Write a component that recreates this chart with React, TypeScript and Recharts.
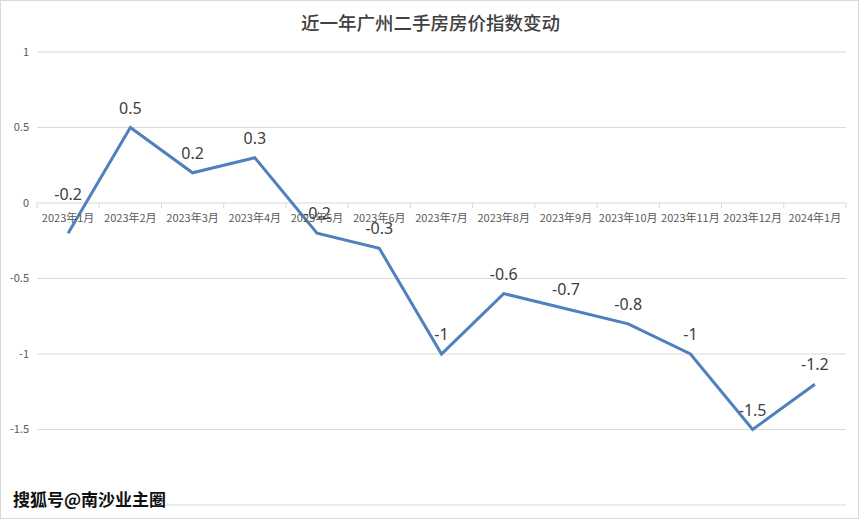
import React from "react";
import { LineChart, Line, XAxis, YAxis, CartesianGrid, LabelList } from "recharts";

const categories = [
  "2023年1月", "2023年2月", "2023年3月", "2023年4月", "2023年5月", "2023年6月", "2023年7月",
  "2023年8月", "2023年9月", "2023年10月", "2023年11月", "2023年12月", "2024年1月",
];
const values = [-0.2, 0.5, 0.2, 0.3, -0.2, -0.3, -1, -0.6, -0.7, -0.8, -1, -1.5, -1.2];
const yTicks = [-2, -1.5, -1, -0.5, 0, 0.5, 1];

const data = categories.map((c, i) => ({ month: c, value: values[i] }));

const W = 861;
const H = 519;
const X_AXIS_H = 14;
const MARGIN = { top: 52, right: 15, bottom: 0, left: 0 };
const Y_AXIS_W = 37;
const DOMAIN_MIN = -2;
const DOMAIN_MAX = 1;
const PLOT_H = H - MARGIN.top - MARGIN.bottom - X_AXIS_H;
const PLOT_W = W - MARGIN.left - MARGIN.right - Y_AXIS_W;
const ZERO_Y = MARGIN.top + (PLOT_H * (DOMAIN_MAX - 0)) / (DOMAIN_MAX - DOMAIN_MIN);
const BAND = PLOT_W / categories.length;

const CatTick = (props: any) => {
  const { x, payload, index } = props;
  const isLast = index === categories.length - 1;
  return (
    <g>
      <line x1={x - BAND / 2} x2={x - BAND / 2} y1={ZERO_Y} y2={ZERO_Y + 5} stroke="#d9d9d9" />
      {isLast && (
        <line x1={x + BAND / 2} x2={x + BAND / 2} y1={ZERO_Y} y2={ZERO_Y + 5} stroke="#d9d9d9" />
      )}
      <text
        x={x}
        y={ZERO_Y + 19}
        textAnchor="middle"
        fontSize={11}
        fill="#595959"
        fontFamily="'Noto Sans CJK SC', sans-serif"
      >
        {payload.value}
      </text>
    </g>
  );
};

const ValueLabel = (props: any) => {
  const { x, y, value, index } = props;
  const lift = index === 0 ? 33 : 14;
  return (
    <text
      x={x}
      y={y - lift}
      textAnchor="middle"
      fontSize={16}
      fill="#404040"
      fontFamily="'Noto Sans', sans-serif"
    >
      {value}
    </text>
  );
};

export default function App() {
  return (
    <div style={{ position: "absolute", left: 0, top: 0, width: W, height: H, background: "#fff" }}>
      <div
        style={{
          position: "absolute",
          left: 0,
          top: 0,
          width: 859,
          height: 519,
          border: "1px solid #d9d9d9",
          boxSizing: "border-box",
        }}
      />
      <LineChart width={W} height={H} data={data} margin={MARGIN}>
        <CartesianGrid horizontal vertical={false} stroke="#d9d9d9" />
        <XAxis
          dataKey="month"
          axisLine={false}
          tickLine={false}
          height={X_AXIS_H}
          interval={0}
          padding={{ left: BAND / 2, right: BAND / 2 }}
          tick={(p: any) => <CatTick {...p} />}
        />
        <YAxis
          width={Y_AXIS_W}
          domain={[DOMAIN_MIN, DOMAIN_MAX]}
          ticks={yTicks}
          axisLine={false}
          tickLine={false}
          tickFormatter={(v: number) => (v === DOMAIN_MIN ? "" : String(v))}
          tick={{ fontSize: 11, fill: "#595959", fontFamily: "'Noto Sans CJK SC', sans-serif" }}
        />
        <Line
          type="linear"
          dataKey="value"
          stroke="#4f81bd"
          strokeWidth={3}
          dot={false}
          isAnimationActive={false}
        >
          <LabelList dataKey="value" content={(p: any) => <ValueLabel {...p} />} />
        </Line>
      </LineChart>
      <div
        style={{
          position: "absolute",
          left: 0,
          top: 9,
          width: W,
          textAlign: "center",
          fontFamily: "'Noto Sans CJK SC', sans-serif",
          fontSize: 18.5,
          fontWeight: 500,
          color: "#404040",
          lineHeight: "26px",
        }}
      >
        近一年广州二手房房价指数变动
      </div>
      <div
        style={{
          position: "absolute",
          left: 13,
          top: 487,
          fontFamily: "'Noto Sans CJK SC', sans-serif",
          fontSize: 17,
          fontWeight: 700,
          color: "#111",
          lineHeight: "24px",
          textShadow:
            "1px 1px 0 #fff, -1px -1px 0 #fff, 1px -1px 0 #fff, -1px 1px 0 #fff, 0 1px 0 #fff, 1px 0 0 #fff, 0 -1px 0 #fff, -1px 0 0 #fff",
        }}
      >
        搜狐号@南沙业主圈
      </div>
    </div>
  );
}
